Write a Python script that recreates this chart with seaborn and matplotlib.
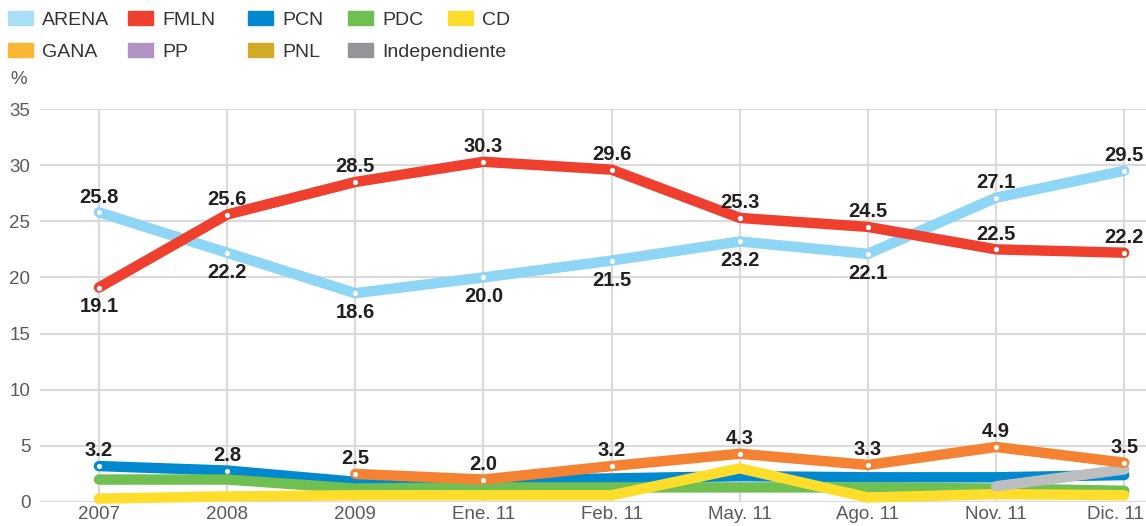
import pandas as pd
import numpy as np
import seaborn as sns
import matplotlib.pyplot as plt
import matplotlib.transforms as mtransforms
from matplotlib.patches import Patch

periods = ["2007", "2008", "2009", "Ene. 11", "Feb. 11", "May. 11", "Ago. 11", "Nov. 11", "Dic. 11"]
nan = np.nan
arena = [25.8, 22.2, 18.6, 20.0, 21.5, 23.2, 22.1, 27.1, 29.5]
fmln = [19.1, 25.6, 28.5, 30.3, 29.6, 25.3, 24.5, 22.5, 22.2]
pcn = [3.2, 2.8, 1.8, 1.9, 2.1, 2.3, 2.2, 2.2, 2.4]
pdc = [2.0, 2.0, 1.2, 1.3, 1.3, 1.3, 1.3, 1.2, 1.0]
cd = [0.3, 0.5, 0.6, 0.6, 0.6, 3.0, 0.4, 0.7, 0.6]
gana = [nan, nan, 2.5, 2.0, 3.2, 4.3, 3.3, 4.9, 3.5]
indep = [nan, nan, nan, nan, nan, nan, nan, 1.4, 2.9]
pp = [nan] * 9
pnl = [nan] * 9

legend_names = ["ARENA", "FMLN", "PCN", "PDC", "CD", "GANA", "PP", "PNL", "Independiente"]
legend_colors = ["#aadff8", "#ef402f", "#0089cf", "#70bf52", "#ffdd2b", "#fbb732", "#b291c5", "#d1aa26", "#939598"]
line_colors = {"ARENA": "#8fd5f5", "FMLN": "#ef402f", "PCN": "#0089cf", "PDC": "#70bf52",
               "CD": "#ffdd2b", "GANA": "#f58233", "PP": "#b291c5", "PNL": "#d1aa26",
               "Independiente": "#bdbec0"}

series = {"ARENA": arena, "FMLN": fmln, "PCN": pcn, "PDC": pdc, "CD": cd,
          "GANA": gana, "PP": pp, "PNL": pnl, "Independiente": indep}
draw_order = ["PCN", "PDC", "CD", "PP", "PNL", "Independiente", "GANA", "ARENA", "FMLN"]

rows = []
for name, vals in series.items():
    for i, v in enumerate(vals):
        rows.append({"party": name, "x": i, "pct": v})
df = pd.DataFrame(rows).dropna()

# which points get a label and where (1 above, -1 below)
labels = {
    "ARENA": [1, -1, -1, -1, -1, -1, -1, 1, 1],
    "FMLN": [-1, 1, 1, 1, 1, 1, 1, 1, 1],
    "PCN": [1, 1, 0, 0, 0, 0, 0, 0, 0],
    "GANA": [0, 0, 1, 1, 1, 1, 1, 1, 1],
}

sns.set_style("white")
plt.rcParams['font.family'] = ['Liberation Sans', 'DejaVu Sans']
fig = plt.figure(figsize=(11.46, 5.26), dpi=100)
ax = fig.add_axes([40 / 1146, 1 - 502 / 526, 1 - 40 / 1146, (502 - 109) / 526])

for name in draw_order:
    d = df[df["party"] == name]
    if len(d) == 0:
        continue
    sns.lineplot(data=d, x="x", y="pct", color=line_colors[name], lw=7.5, ax=ax,
                 solid_capstyle="round", solid_joinstyle="round", clip_on=False, zorder=3)

for name, pos in labels.items():
    vals = series[name]
    for i, p in enumerate(pos):
        if p == 0:
            continue
        ax.scatter(i, vals[i], s=14, color="white", zorder=5, clip_on=False, linewidths=0)
        off = 11 if p > 0 else -14
        ax.annotate(f"{vals[i]:.1f}", (i, vals[i]), xytext=(0, off), textcoords="offset points",
                    ha="center", va="center", fontsize=14.5, fontweight="bold", color="#231f20",
                    zorder=6, annotation_clip=False)

ax.set_xlim(-0.46, 8.17)
ax.set_ylim(0, 35)
ax.set_xticks(range(len(periods)))
ax.set_xticklabels(periods)
ax.set_yticks(range(0, 36, 5))
ax.tick_params(axis="both", length=0, labelsize=13.5, labelcolor="#5a5a5a")
ax.tick_params(axis="x", pad=3)
ax.tick_params(axis="y", pad=7)
ax.grid(True, color="#dadada", lw=1.5, zorder=0)
ax.set_axisbelow(True)
for s in ax.spines.values():
    s.set_visible(False)
ax.set_xlabel("")
ax.set_ylabel("")
# last tick label sits a little left so it stays inside the picture
last = ax.get_xticklabels()[-1]
last.set_transform(last.get_transform() + mtransforms.ScaledTranslation(-9 / 100, 0, fig.dpi_scale_trans))
fig.text(10 / 1146, 1 - 80 / 526, "%", fontsize=13.5, color="#5a5a5a", va="center")

# legend: five columns with their own widths
handles = [Patch(color=c, label=n) for n, c in zip(legend_names, legend_colors)]
col_x = [8, 128, 248, 348, 448]
for k, x0 in enumerate(col_x):
    idx = [k, k + 5] if k + 5 < len(handles) else [k]
    fig.legend([handles[i] for i in idx], [legend_names[i] for i in idx],
               loc="upper left", bbox_to_anchor=(x0 / 1146, 1 - 11 / 526), frameon=False,
               fontsize=14, handlelength=1.3, handleheight=0.7, handletextpad=0.45,
               labelspacing=0.75, borderpad=0, borderaxespad=0, labelcolor="#333333")

plt.savefig("out.png", dpi=100)
